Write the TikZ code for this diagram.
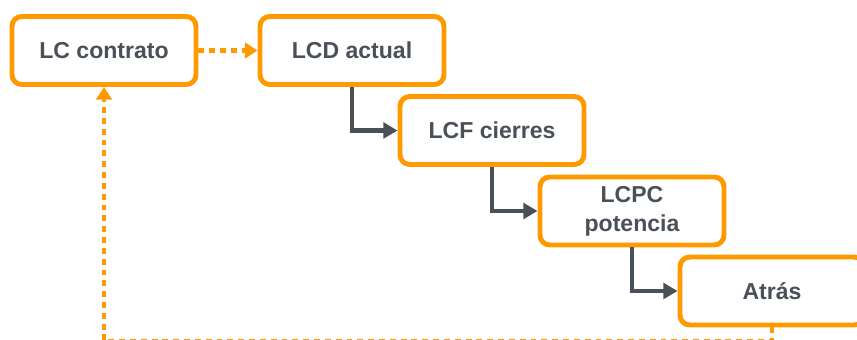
\documentclass[tikz,border=0pt]{standalone}
\usepackage{fontspec}
\setmainfont{Liberation Sans}
\usetikzlibrary{arrows.meta}
\definecolor{cajanaranja}{HTML}{FF9900}
\definecolor{textogris}{HTML}{4A5058}

\begin{document}
\begin{tikzpicture}[x=0.025cm,y=-0.025cm,
  caja/.style={draw=cajanaranja, line width=3.5pt, rounded corners=7pt, fill=white,
    minimum width=4.6cm, minimum height=1.7cm, inner sep=2pt,
    text=textogris, align=center, font=\fontsize{16.4}{20.5}\selectfont\bfseries},
  paso/.style={draw=textogris, line width=3.2pt, -{Triangle[length=10pt,width=11pt]}},
  punteado/.style={draw=cajanaranja, line width=3.5pt, dash pattern=on 4.2pt off 3.5pt,
    -{Triangle[length=9pt,width=11pt]}}]
\useasboundingbox (0,0) rectangle (857,340);
\clip (0,0) rectangle (857,340);
\node[caja] (contrato) at (104,50.5) {LC contrato};
\node[caja] (actual) at (352,50.5) {LCD actual};
\node[caja] (cierres) at (492,130.5) {LCF cierres};
\node[caja] (potencia) at (632,211) {LCPC\\potencia};
\node[caja] (atras) at (772,291) {Atrás};
\coordinate (abajo) at (104,341);
\draw[punteado] (contrato.east) -- (actual.west);
\draw[paso] (actual.south) |- (cierres.west);
\draw[paso] (cierres.south) |- (potencia.west);
\draw[paso] (potencia.south) |- (atras.west);
\draw[punteado] (atras.south) |- (abajo) -- (contrato.south);
\end{tikzpicture}
\end{document}
